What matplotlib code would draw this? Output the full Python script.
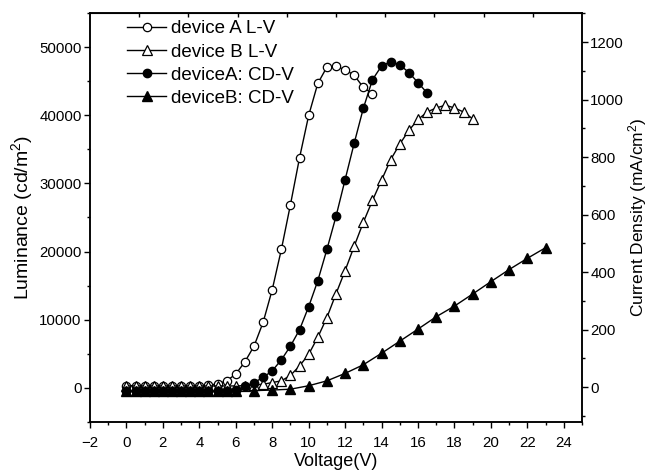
import numpy as np
import matplotlib
matplotlib.use("Agg")
import matplotlib.pyplot as plt
from matplotlib.ticker import MultipleLocator

plt.rcParams['font.family'] = ['Liberation Sans', 'DejaVu Sans']
plt.rcParams['mathtext.fontset'] = 'custom'
plt.rcParams['mathtext.rm'] = 'Liberation Sans'
plt.rcParams['mathtext.it'] = 'Liberation Sans'

# device A luminance vs voltage
volt_a_lv = np.arange(0, 13.51, 0.5)
lum_a = [300, 300, 300, 300, 300, 300, 300, 300, 300, 350, 550, 1000, 2000, 3800,
         6100, 9600, 14400, 20300, 26900, 33800, 40000, 44700, 47100, 47200,
         46700, 45900, 44100, 43200]

# device B luminance vs voltage
volt_b_lv = np.arange(0, 19.01, 0.5)
lum_b = [250] * 13 + [300, 400, 500, 750, 1000, 1800, 3200, 4900, 7400, 10300,
                      13800, 17200, 20800, 24300, 27500, 30500, 33500, 35800,
                      37800, 39400, 40500, 41100, 41500, 41100, 40500, 39500]

# device A current density vs voltage
volt_a_cd = np.arange(0, 16.51, 0.5)
cd_a = [-15] * 12 + [-10, 3, 16, 34, 57, 95, 143, 200, 280, 370, 479, 594, 722,
                     849, 970, 1069, 1117, 1132, 1121, 1094, 1059, 1023]

# device B current density vs voltage
volt_b_cd = list(np.arange(0, 6.01, 0.5)) + list(range(7, 24))
cd_b = [-15] * 13 + [-12, -10, -7, 5, 22, 48, 78, 118, 160, 202, 245, 282, 324,
                     367, 409, 448, 485]

fig = plt.figure(figsize=(6.49, 4.72), dpi=100)
ax1 = fig.add_axes([0.1387, 0.1066, 0.7581, 0.8652])
ax2 = ax1.twinx()

lw = 1.0
ms = 6
h1, = ax1.plot(volt_a_lv, lum_a, '-o', color='black', mfc='white', mec='black',
               ms=ms, lw=lw, mew=0.9, label='device A L-V')
h2, = ax1.plot(volt_b_lv, lum_b, '-^', color='black', mfc='white', mec='black',
               ms=ms + 0.5, lw=lw, mew=0.9, label='device B L-V')
h3, = ax2.plot(volt_a_cd, cd_a, '-o', color='black', mfc='black', mec='black',
               ms=ms, lw=lw, label='deviceA: CD-V')
h4, = ax2.plot(volt_b_cd, cd_b, '-^', color='black', mfc='black', mec='black',
               ms=ms + 0.5, lw=lw, label='deviceB: CD-V')

ax1.set_xlim(-2, 25)
ax1.set_ylim(-5000, 55000)
ax2.set_ylim(-120, 1300)

ax1.xaxis.set_major_locator(MultipleLocator(2))
ax1.xaxis.set_minor_locator(MultipleLocator(1))
ax1.yaxis.set_major_locator(MultipleLocator(10000))
ax1.yaxis.set_minor_locator(MultipleLocator(5000))
ax2.yaxis.set_major_locator(MultipleLocator(200))
ax2.yaxis.set_minor_locator(MultipleLocator(100))

for ax in (ax1, ax2):
    ax.tick_params(which='major', direction='out', length=4, width=1,
                   labelsize=10.8, pad=2)
    ax.tick_params(which='minor', direction='out', length=2.5, width=1)
    for sp in ax.spines.values():
        sp.set_linewidth(1.1)
ax1.tick_params(top=False, right=False)
ax1.tick_params(axis='x', which='major', pad=6.5)

# inward ticks along the top edge
top = ax1.secondary_xaxis('top')
top.set_xticks(-2 + 2.7 * np.arange(1, 10), labels=[])
top.tick_params(direction='in', length=3, width=1)

ax1.set_xlabel('Voltage(V)', fontsize=13, labelpad=2)
ax1.set_ylabel('Luminance (cd/m$^2$)', fontsize=14, labelpad=3)
ax2.set_ylabel('Current Density (mA/cm$^2$)', fontsize=12.5, labelpad=1)

ax2.legend(handles=[h1, h2, h3, h4], loc='upper left', frameon=False,
           fontsize=13.5, handlelength=2.1, handletextpad=0.25, numpoints=1,
           labelspacing=0.32, borderaxespad=0, borderpad=0,
           bbox_to_anchor=(0.075, 0.983))

fig.savefig('out.png', dpi=100)
